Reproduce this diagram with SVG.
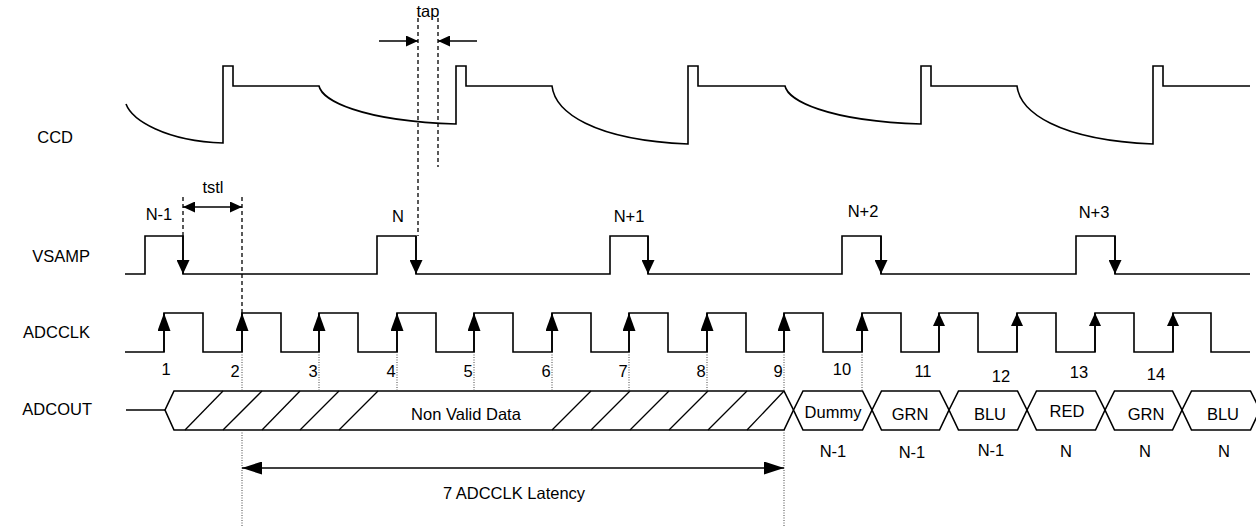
<svg xmlns="http://www.w3.org/2000/svg" width="1256" height="527" viewBox="0 0 1256 527">
<style>
  .sig{fill:none;stroke:#000;stroke-width:1.6;stroke-linejoin:miter}
  .box{fill:#fff;stroke:#000;stroke-width:1.6}
  .hatch{stroke:#000;stroke-width:1.3}
  .dash{stroke:#000;stroke-width:1.3;stroke-dasharray:4 3;fill:none}
  .dot{stroke:#444;stroke-width:1;stroke-dasharray:1 1.5;fill:none}
  .arr{stroke:#000;stroke-width:1.6;fill:none}
  text{font-family:"Liberation Sans",Arial,sans-serif;font-size:16.5px;fill:#000}
  .c{text-anchor:middle}
  .e{text-anchor:end}
</style>
<defs>
  <marker id="aClk" viewBox="0 0 18 13" refX="18" refY="6.5" markerWidth="18" markerHeight="13" markerUnits="userSpaceOnUse" orient="auto"><path d="M0,0 L18,6.5 L0,13 Z" fill="#000"/></marker>
  <marker id="aClkS" viewBox="0 0 13 12" refX="13" refY="6" markerWidth="13" markerHeight="12" markerUnits="userSpaceOnUse" orient="auto"><path d="M0,0 L13,6 L0,12 Z" fill="#000"/></marker>
  <marker id="aV" viewBox="0 0 14 13" refX="14" refY="6.5" markerWidth="14" markerHeight="13" markerUnits="userSpaceOnUse" orient="auto"><path d="M0,0 L14,6.5 L0,13 Z" fill="#000"/></marker>
  <marker id="aT" viewBox="0 0 12 11" refX="12" refY="5.5" markerWidth="12" markerHeight="11" markerUnits="userSpaceOnUse" orient="auto"><path d="M0,0 L12,5.5 L0,11 Z" fill="#000"/></marker>
  <marker id="aTs" viewBox="0 0 12 11" refX="12" refY="5.5" markerWidth="12" markerHeight="11" markerUnits="userSpaceOnUse" orient="auto-start-reverse"><path d="M0,0 L12,5.5 L0,11 Z" fill="#000"/></marker>
  <marker id="aL" viewBox="0 0 20 13" refX="20" refY="6.5" markerWidth="20" markerHeight="13" markerUnits="userSpaceOnUse" orient="auto-start-reverse"><path d="M0,0 L20,6.5 L0,13 Z" fill="#000"/></marker>
</defs>

<g id="signal-labels">
  <text class="e" x="73" y="143">CCD</text>
  <text class="e" x="90" y="262">VSAMP</text>
  <text class="e" x="90" y="338">ADCCLK</text>
  <text class="e" x="92" y="415">ADCOUT</text>
</g>

<g id="ccd">
  <path class="sig" d="M126,104 C132,120 165,141 223,143 V66 H233 V86 H319
    C322,100 360,121 456,124 V66 H466 V86 H552
    C555,112 593,140 688,144 V66 H698 V86 H785
    C788,100 826,121 921,124 V66 H931 V86 H1017
    C1020,112 1058,140 1153,144 V66 H1163 V86 H1250"/>
</g>

<g id="vsamp">
  <path class="sig" d="M125,274 H145 V236 H183 V274 H377 V236 H416 V274 H610 V236 H648 V274 H842 V236 H881 V274 H1076 V236 H1115 V274 H1250"/>
  <text class="c" x="159" y="220">N-1</text>
  <text class="c" x="398" y="222">N</text>
  <text class="c" x="629" y="222">N+1</text>
  <text class="c" x="863" y="217">N+2</text>
  <text class="c" x="1094" y="218">N+3</text>
</g>

<g id="adcclk">
  <path class="sig" d="M125,352 H164 V313 H203 V352 H242 V313 H281 V352 H319 V313 H358 V352 H397 V313 H436 V352 H474 V313 H513 V352 H552 V313 H591 V352 H629 V313 H668 V352 H707 V313 H746 V352 H784 V313 H823 V352 H862 V313 H901 V352 H939 V313 H978 V352 H1017 V313 H1056 V352 H1095 V313 H1134 V352 H1173 V313 H1211 V352 H1250"/>
  <text class="c" x="166" y="375">1</text>
  <text class="c" x="235" y="377">2</text>
  <text class="c" x="313" y="377">3</text>
  <text class="c" x="391" y="377">4</text>
  <text class="c" x="468" y="377">5</text>
  <text class="c" x="546" y="377">6</text>
  <text class="c" x="623" y="377">7</text>
  <text class="c" x="701" y="377">8</text>
  <text class="c" x="778" y="377">9</text>
  <text class="c" x="842" y="375">10</text>
  <text class="c" x="923" y="377">11</text>
  <text class="c" x="1001" y="382">12</text>
  <text class="c" x="1079" y="378">13</text>
  <text class="c" x="1156" y="380">14</text>
</g>

<g id="adcout">
  <line class="sig" x1="126" y1="410" x2="165" y2="410"/>
  <g id="box-nonvalid">
    <polygon class="box" points="165,410 174,391 784,391 793.5,410 784,430 174,430"/>
    <g class="hatch">
      <line x1="185" y1="430" x2="223" y2="391"/>
      <line x1="223" y1="430" x2="262" y2="391"/>
      <line x1="262" y1="430" x2="300" y2="391"/>
      <line x1="300" y1="430" x2="339" y2="391"/>
      <line x1="339" y1="430" x2="378" y2="391"/>
      <line x1="552" y1="430" x2="591" y2="391"/>
      <line x1="591" y1="430" x2="630" y2="391"/>
      <line x1="630" y1="430" x2="669" y2="391"/>
      <line x1="669" y1="430" x2="708" y2="391"/>
      <line x1="708" y1="430" x2="747" y2="391"/>
      <line x1="747" y1="430" x2="784" y2="391"/>
    </g>
    <text class="c" x="466" y="420">Non Valid Data</text>
  </g>
  <g id="box-dummy">
    <polygon class="box" points="793.5,410 803,391 862.5,391 872,410 862.5,430 803,430"/>
    <text class="c" x="833" y="418">Dummy</text>
    <text class="c" x="833" y="457">N-1</text>
  </g>
  <g id="box-grn1">
    <polygon class="box" points="872,410 881.5,391 939.5,391 949,410 939.5,430 881.5,430"/>
    <text class="c" x="910" y="420">GRN</text>
    <text class="c" x="912" y="458">N-1</text>
  </g>
  <g id="box-blu1">
    <polygon class="box" points="949,410 958.5,391 1017.5,391 1027,410 1017.5,430 958.5,430"/>
    <text class="c" x="990" y="420">BLU</text>
    <text class="c" x="991" y="456">N-1</text>
  </g>
  <g id="box-red">
    <polygon class="box" points="1027,410 1036.5,391 1095.5,391 1105,410 1095.5,430 1036.5,430"/>
    <text class="c" x="1067" y="417">RED</text>
    <text class="c" x="1066" y="457">N</text>
  </g>
  <g id="box-grn2">
    <polygon class="box" points="1105,410 1114.5,391 1172.5,391 1182,410 1172.5,430 1114.5,430"/>
    <text class="c" x="1146" y="420">GRN</text>
    <text class="c" x="1145" y="457">N</text>
  </g>
  <g id="box-blu2">
    <polygon class="box" points="1182,410 1191.5,391 1250.5,391 1260,410 1250.5,430 1191.5,430"/>
    <text class="c" x="1223" y="420">BLU</text>
    <text class="c" x="1224" y="457">N</text>
  </g>
</g>

<g id="connectors">
  <line class="dash" x1="418" y1="18" x2="418" y2="236"/>
  <line class="dash" x1="438" y1="18" x2="438" y2="167"/>
  <line class="arr" x1="379" y1="41" x2="418" y2="41" marker-end="url(#aT)"/>
  <line class="arr" x1="477" y1="41" x2="438" y2="41" marker-end="url(#aT)"/>
  <text class="c" x="428" y="17">tap</text>
  <line class="dash" x1="183" y1="197" x2="183" y2="236"/>
  <line class="dash" x1="242" y1="197" x2="242" y2="313"/>
  <line class="arr" x1="183" y1="207" x2="242" y2="207" marker-start="url(#aTs)" marker-end="url(#aTs)"/>
  <text class="c" x="213" y="193">tstl</text>
  <line class="arr" x1="183" y1="236" x2="183" y2="274" marker-end="url(#aV)"/>
  <line class="arr" x1="416" y1="236" x2="416" y2="274" marker-end="url(#aV)"/>
  <line class="arr" x1="648" y1="236" x2="648" y2="274" marker-end="url(#aV)"/>
  <line class="arr" x1="881" y1="236" x2="881" y2="274" marker-end="url(#aV)"/>
  <line class="arr" x1="1115" y1="236" x2="1115" y2="274" marker-end="url(#aV)"/>
  <line class="arr" x1="164" y1="352" x2="164" y2="313" marker-end="url(#aClk)"/>
  <line class="arr" x1="242" y1="352" x2="242" y2="313" marker-end="url(#aClk)"/>
  <line class="arr" x1="319" y1="352" x2="319" y2="313" marker-end="url(#aClk)"/>
  <line class="arr" x1="397" y1="352" x2="397" y2="313" marker-end="url(#aClk)"/>
  <line class="arr" x1="474" y1="352" x2="474" y2="313" marker-end="url(#aClk)"/>
  <line class="arr" x1="552" y1="352" x2="552" y2="313" marker-end="url(#aClk)"/>
  <line class="arr" x1="629" y1="352" x2="629" y2="313" marker-end="url(#aClk)"/>
  <line class="arr" x1="707" y1="352" x2="707" y2="313" marker-end="url(#aClk)"/>
  <line class="arr" x1="784" y1="352" x2="784" y2="313" marker-end="url(#aClk)"/>
  <line class="arr" x1="862" y1="352" x2="862" y2="313" marker-end="url(#aClk)"/>
  <line class="arr" x1="939" y1="352" x2="939" y2="313" marker-end="url(#aClkS)"/>
  <line class="arr" x1="1017" y1="352" x2="1017" y2="313" marker-end="url(#aClkS)"/>
  <line class="arr" x1="1095" y1="352" x2="1095" y2="313" marker-end="url(#aClkS)"/>
  <line class="arr" x1="1173" y1="352" x2="1173" y2="313" marker-end="url(#aClkS)"/>
  <line class="dot" x1="242" y1="352" x2="242" y2="391"/>
  <line class="dot" x1="319" y1="352" x2="319" y2="391"/>
  <line class="dot" x1="397" y1="352" x2="397" y2="391"/>
  <line class="dot" x1="474" y1="352" x2="474" y2="391"/>
  <line class="dot" x1="552" y1="352" x2="552" y2="391"/>
  <line class="dot" x1="629" y1="352" x2="629" y2="391"/>
  <line class="dot" x1="707" y1="352" x2="707" y2="391"/>
  <line class="dot" x1="784" y1="352" x2="784" y2="391"/>
  <line class="dot" x1="862" y1="352" x2="862" y2="391"/>
  <line class="dot" x1="242" y1="430" x2="242" y2="527"/>
  <line class="dot" x1="784" y1="430" x2="784" y2="527"/>
  <line class="arr" x1="242" y1="468" x2="784" y2="468" marker-start="url(#aL)" marker-end="url(#aL)"/>
  <text class="c" x="514" y="499">7 ADCCLK Latency</text>
</g>
</svg>
